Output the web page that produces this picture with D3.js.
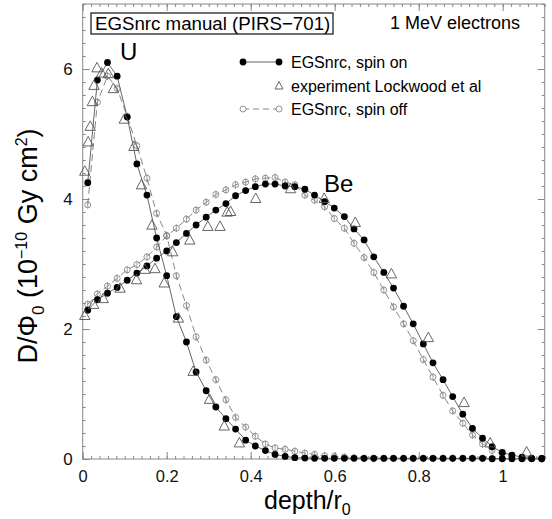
<!DOCTYPE html>
<html>
<head>
<meta charset="utf-8">
<style>
body { margin: 0; background: white; }
svg { font-family: "Liberation Sans", Arial, sans-serif; }
.axis path { display: none; }
.axis line { stroke: #888; stroke-width: 1; }
.axis text { font-size: 17px; fill: #111; }
</style>
<script src="https://d3js.org/d3.v7.min.js"></script>
</head>
<body>
<div id="chart"></div>
<script>
// depth bins (depth / r0), shared by the monte carlo curves
var depth = [0.012,0.035,0.059,0.082,0.106,0.129,0.153,0.176,0.200,0.223,0.247,0.270,
             0.294,0.317,0.341,0.364,0.388,0.411,0.435,0.458,0.482,0.505,0.529,0.552,
             0.576,0.599,0.623,0.646,0.670,0.693,0.717,0.740,0.764,0.787,0.811,0.834,
             0.858,0.881,0.905,0.928,0.952,0.975,0.999,1.022,1.046,1.069,1.093];

var uSpinOn = [4.25,5.83,6.10,5.89,5.26,4.54,4.06,3.40,2.82,2.19,1.80,1.34,
               1.05,0.80,0.62,0.46,0.29,0.20,0.13,0.07,0.04,0.02,0.015,0.01,
               0.01,0.01,0.01,0.01,0.01,0.01,0.01,0.01,0.01,0.01,0.01,0.01,
               0.01,0.01,0.01,0.01,0.01,0.005,0.005,0.005,0.005,0.005,0.005];
var uSpinOff = [3.91,5.49,5.89,5.70,5.27,4.82,4.32,3.78,3.44,2.82,2.36,1.88,
                1.52,1.22,0.91,0.64,0.49,0.35,0.23,0.17,0.15,0.12,0.09,0.07,
                0.05,0.04,0.03,0.02,0.01,0.01,0.01,0.01,0.01,0.01,0.01,0.01,
                0.01,0.01,0.01,0.01,0.01,0.005,0.005,0.005,0.005,0.005,0.005];
var beSpinOn = [2.29,2.45,2.55,2.64,2.75,2.86,2.97,3.09,3.20,3.33,3.47,3.60,
                3.72,3.83,3.93,4.05,4.13,4.19,4.23,4.23,4.20,4.19,4.15,4.06,
                3.96,3.86,3.73,3.54,3.37,3.11,2.87,2.63,2.35,2.08,1.77,1.48,
                1.22,0.96,0.69,0.47,0.32,0.19,0.10,0.06,0.03,0.01,0.01];
var beSpinOff = [2.38,2.54,2.66,2.78,2.91,2.99,3.11,3.26,3.43,3.55,3.69,3.83,
                 3.95,4.07,4.14,4.22,4.26,4.31,4.32,4.33,4.26,4.22,4.06,3.98,
                 3.88,3.70,3.55,3.32,3.10,2.87,2.60,2.34,2.08,1.82,1.53,1.26,
                 0.98,0.74,0.55,0.37,0.23,0.13,0.07,0.03,0.01,0.01,0.0];

// experiment, Lockwood et al
var uExpX = [0.005,0.013,0.018,0.023,0.027,0.034,0.045,0.061,0.073,0.099,0.122,0.140,
             0.165,0.194,0.228,0.263,0.302,0.337,0.373];
var uExpY = [4.42,4.87,5.11,5.49,5.74,6.01,5.93,5.92,5.69,5.22,4.80,4.21,
             3.59,2.70,2.16,1.34,0.91,0.50,0.24];
var beExpX = [0.005,0.026,0.049,0.089,0.128,0.148,0.172,0.214,0.255,0.298,0.327,0.344,
              0.352,0.412,0.495,0.575,0.649,0.735,0.823,0.908,0.970,1.057];
var beExpY = [2.20,2.37,2.46,2.62,2.75,2.91,2.92,3.18,3.36,3.57,3.57,3.79,
              3.80,4.00,4.15,4.00,3.63,2.84,1.86,0.86,0.24,0.10];

var spinOffErr = 0.06;

var xTicks = [0, 0.2, 0.4, 0.6, 0.8, 1];
var yTicks = [0, 2, 4, 6];
var legendLabels = ["EGSnrc, spin on", "experiment Lockwood et al", "EGSnrc, spin off"];

var W = 552, H = 519;
var svg = d3.select("#chart").append("svg")
    .attr("width", W).attr("height", H);

var x = d3.scaleLinear().domain([0, 1.1]).range([82.7, 544.7]);
var y = d3.scaleLinear().domain([0, 7]).range([459, 4]);

var xMinor = d3.range(0, 1.1001, 0.02);
var yMinor = d3.range(0, 7.001, 0.2);

// ticks, all pointing inwards
function addAxis(axis, tr) {
    return svg.append("g").attr("class", "axis").attr("transform", tr).call(axis);
}
addAxis(d3.axisBottom(x).tickValues(xMinor).tickSize(-3).tickFormat(""), "translate(0,459)");
addAxis(d3.axisBottom(x).tickValues(xTicks).tickSize(-7).tickPadding(11).tickFormat(function(d) {return d;}), "translate(0,459)")
    .selectAll("text").style("font-size", "16.5px");
addAxis(d3.axisTop(x).tickValues(xMinor).tickSize(-3).tickFormat(""), "translate(0,4)");
addAxis(d3.axisTop(x).tickValues(xTicks).tickSize(-7).tickFormat(""), "translate(0,4)");
addAxis(d3.axisLeft(y).tickValues(yMinor).tickSize(-3).tickFormat(""), "translate(82.7,0)");
addAxis(d3.axisLeft(y).tickValues(yTicks).tickSize(-7).tickPadding(10).tickFormat(function(d) {return d;}), "translate(82.7,0)");
addAxis(d3.axisRight(y).tickValues(yMinor).tickSize(-3).tickFormat(""), "translate(544.7,0)");
addAxis(d3.axisRight(y).tickValues(yTicks).tickSize(-7).tickFormat(""), "translate(544.7,0)");

svg.append("rect")
    .attr("x", x(0)).attr("y", y(7))
    .attr("width", x(1.1) - x(0)).attr("height", y(0) - y(7))
    .attr("fill", "none").attr("stroke", "#888").attr("stroke-width", 1);

var line = d3.line().x(function(d) {return x(d[0]);}).y(function(d) {return y(d[1]);});
var zip = function(xs, ys) {return xs.map(function(v, i) {return [v, ys[i]];});};

var tri = "M0,-6L5.2,3.5L-5.2,3.5Z";
var triSmall = "M0,-4.5L4,3L-4,3Z";

function drawSpinOff(vals) {
    var pts = zip(depth, vals);
    svg.append("path").datum(pts).attr("d", line)
        .attr("fill", "none").attr("stroke", "#888").attr("stroke-width", 1)
        .attr("stroke-dasharray", "7,4");
    var g = svg.append("g").selectAll("g").data(pts).enter().append("g");
    g.append("line")
        .attr("x1", function(d) {return x(d[0]);}).attr("x2", function(d) {return x(d[0]);})
        .attr("y1", function(d) {return y(d[1] + spinOffErr);})
        .attr("y2", function(d) {return y(d[1] - spinOffErr);})
        .attr("stroke", "#888").attr("stroke-width", 0.8);
    g.append("circle")
        .attr("cx", function(d) {return x(d[0]);}).attr("cy", function(d) {return y(d[1]);})
        .attr("r", 3).attr("fill", "none").attr("stroke", "#888").attr("stroke-width", 0.9);
}
function drawSpinOn(vals) {
    var pts = zip(depth, vals);
    svg.append("path").datum(pts).attr("d", line)
        .attr("fill", "none").attr("stroke", "#666").attr("stroke-width", 1);
    svg.append("g").selectAll("circle").data(pts).enter().append("circle")
        .attr("cx", function(d) {return x(d[0]);}).attr("cy", function(d) {return y(d[1]);})
        .attr("r", 3.4).attr("fill", "#000");
}
function drawExp(xs, ys) {
    svg.append("g").selectAll("path").data(zip(xs, ys)).enter().append("path")
        .attr("d", tri)
        .attr("transform", function(d) {return "translate(" + x(d[0]) + "," + y(d[1]) + ")";})
        .attr("fill", "none").attr("stroke", "#555").attr("stroke-width", 0.9);
}

drawSpinOff(beSpinOff);
drawSpinOff(uSpinOff);
drawSpinOn(beSpinOn);
drawSpinOn(uSpinOn);
drawExp(beExpX, beExpY);
drawExp(uExpX, uExpY);

// title box and energy
svg.append("rect").attr("x", 91).attr("y", 13).attr("width", 242).attr("height", 21)
    .attr("fill", "white").attr("stroke", "#222").attr("stroke-width", 1.3);
svg.append("text").attr("x", 95).attr("y", 30).attr("font-size", 18.7)
    .text("EGSnrc manual (PIRS\u2212701)");
svg.append("text").attr("x", 520).attr("y", 29).attr("font-size", 18)
    .attr("text-anchor", "end").text("1 MeV electrons");

// curve labels
svg.append("text").attr("x", 120).attr("y", 60).attr("font-size", 24).text("U");
svg.append("text").attr("x", 324).attr("y", 192).attr("font-size", 24).text("Be");

// legend
var lg = svg.append("g");
var rows = [62, 86, 109];
lg.append("line").attr("x1", 243).attr("x2", 279).attr("y1", rows[0]).attr("y2", rows[0])
    .attr("stroke", "#666");
[243, 279].forEach(function(px) {
    lg.append("circle").attr("cx", px).attr("cy", rows[0]).attr("r", 3.4).attr("fill", "#000");
});
lg.append("path").attr("d", triSmall).attr("transform", "translate(279," + rows[1] + ")")
    .attr("fill", "none").attr("stroke", "#555").attr("stroke-width", 0.9);
lg.append("line").attr("x1", 243).attr("x2", 279).attr("y1", rows[2]).attr("y2", rows[2])
    .attr("stroke", "#888").attr("stroke-dasharray", "6,4");
[243, 279].forEach(function(px) {
    lg.append("circle").attr("cx", px).attr("cy", rows[2]).attr("r", 3)
        .attr("fill", "white").attr("stroke", "#888").attr("stroke-width", 0.9);
});
legendLabels.forEach(function(t, i) {
    lg.append("text").attr("x", 291).attr("y", rows[i] + 6).attr("font-size", 16).text(t);
});

// axis titles
var xl = svg.append("text").attr("x", 264).attr("y", 509).attr("font-size", 25);
xl.append("tspan").text("depth/r");
xl.append("tspan").attr("dy", 6).attr("font-size", 16).text("0");

var yl = svg.append("text").attr("transform", "translate(37,246) rotate(-90)")
    .attr("text-anchor", "middle").attr("font-size", 27);
yl.append("tspan").text("D/\u03A6");
yl.append("tspan").attr("dy", 7).attr("font-size", 17).text("0");
yl.append("tspan").attr("dy", -7).text(" (10");
yl.append("tspan").attr("dy", -10).attr("font-size", 16).text("\u221210");
yl.append("tspan").attr("dy", 10).text(" Gy cm");
yl.append("tspan").attr("dy", -10).attr("font-size", 16).text("2");
yl.append("tspan").attr("dy", 10).text(")");
</script>
</body>
</html>
